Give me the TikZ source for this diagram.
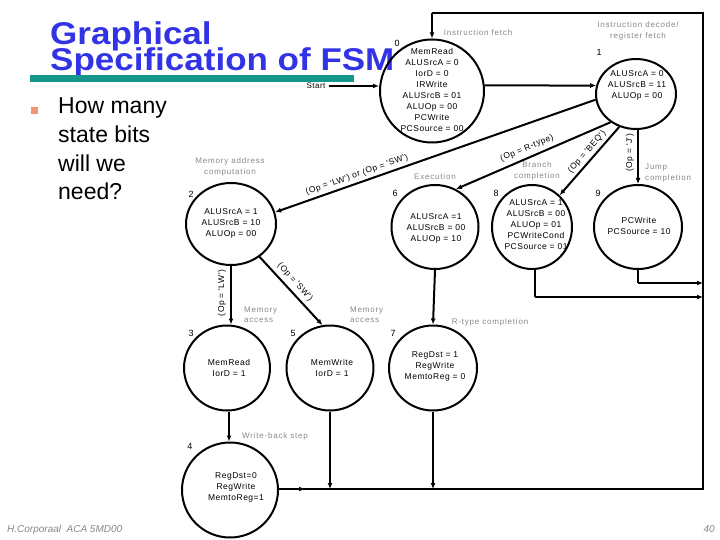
\documentclass[tikz,border=0pt]{standalone}
\usepackage{fontspec}
\usepackage{graphicx}
\setmainfont{Liberation Sans}
\newfontfamily\smallf[LetterSpace=6]{Liberation Sans}
\newfontfamily\lblf[LetterSpace=10]{Liberation Sans}
\usetikzlibrary{arrows.meta,shapes.geometric}
\definecolor{titleblue}{RGB}{51,51,230}
\definecolor{tealbar}{RGB}{20,150,140}
\definecolor{bulletc}{RGB}{240,150,120}
\definecolor{lblgray}{RGB}{135,135,135}
\begin{document}
\begin{tikzpicture}[x=1pt,y=-1pt,
  state/.style={draw, line width=2pt, ellipse, inner sep=0pt},
  stxt/.style={font=\smallf\fontsize{8.5}{11}\selectfont, align=center, inner sep=0pt},
  lbl/.style={font=\lblf\fontsize{8}{10.5}\selectfont, text=lblgray, inner sep=0pt},
  num/.style={font=\smallf\fontsize{9}{10}\selectfont, inner sep=0pt},
  cond/.style={font=\smallf\fontsize{8.5}{10}\selectfont, inner sep=0pt},
  arr/.style={line width=2pt, -{Latex[length=6pt,width=5pt]}},
  ln/.style={line width=2pt},
  ttl/.style={font=\bfseries\fontsize{35}{30}\selectfont, text=titleblue, anchor=base west, inner sep=0pt},
  bul/.style={font=\fontsize{23}{28.7}\selectfont, anchor=base west, inner sep=0pt},
  foot/.style={font=\itshape\fontsize{10}{12}\selectfont, text=lblgray, inner sep=0pt}
]
\useasboundingbox (0,0) rectangle (720,540);
% title
\node[ttl] (t1) at (50,45) {\scalebox{1}[0.9]{Graphical}};
\node[ttl] (t2) at (50,71) {\scalebox{1}[0.9]{Specification of FSM}};
\fill[tealbar] (30,75) rectangle (354,82);
% bullet
\fill[bulletc] (31,107) rectangle (38,114);
\node[bul] (b1) at (58,114) {How many};
\node[bul] (b2) at (58,143) {state bits};
\node[bul] (b3) at (58,172) {will we};
\node[bul] (b4) at (58,200) {need?};

% states
\node[state, minimum width=104pt, minimum height=103pt] (s0) at (432,91) {};
\node[state, minimum width=80pt, minimum height=70pt] (s1) at (636,94) {};
\node[state, minimum width=90pt, minimum height=82pt] (s2) at (231,224) {};
\node[state, minimum width=87pt, minimum height=84pt] (s6) at (435,227) {};
\node[state, minimum width=80pt, minimum height=84pt] (s8) at (532,227) {};
\node[state, minimum width=88pt, minimum height=84pt] (s9) at (638,227) {};
\node[state, minimum width=86pt, minimum height=85pt] (s3) at (227,368) {};
\node[state, minimum width=87pt, minimum height=85pt] (s5) at (330,368) {};
\node[state, minimum width=88pt, minimum height=85pt] (s7) at (433,368) {};
\node[state, minimum width=96pt, minimum height=95pt] (s4) at (230,490) {};

% state texts
\node[stxt] (x0) at (432,90) {MemRead\\ALUSrcA = 0\\IorD = 0\\IRWrite\\ALUSrcB = 01\\ALUOp = 00\\PCWrite\\PCSource = 00};
\node[stxt] (x1) at (637,85) {ALUSrcA = 0\\ALUSrcB = 11\\ALUOp = 00};
\node[stxt] (x2) at (231,223) {ALUSrcA = 1\\ALUSrcB = 10\\ALUOp = 00};
\node[stxt] (x6) at (436,228) {ALUSrcA =1\\ALUSrcB = 00\\ALUOp = 10};
\node[stxt] (x8) at (536,225) {ALUSrcA = 1\\ALUSrcB = 00\\ALUOp = 01\\PCWriteCond\\PCSource = 01};
\node[stxt] (x9) at (639,226) {PCWrite\\PCSource = 10};
\node[stxt] (x3) at (229,368) {MemRead\\IorD = 1};
\node[stxt] (x5) at (332,368) {MemWrite\\IorD = 1};
\node[stxt] (x7) at (435,366) {RegDst = 1\\RegWrite\\MemtoReg = 0};
\node[stxt] (x4) at (236,487) {RegDst=0\\RegWrite\\MemtoReg=1};

% state numbers
\node[num] (n0) at (397,43) {0};
\node[num] (n1) at (599,52) {1};
\node[num] (n2) at (191,194) {2};
\node[num] (n6) at (395,193) {6};
\node[num] (n8) at (496,193) {8};
\node[num] (n9) at (598,193) {9};
\node[num] (n3) at (191,333) {3};
\node[num] (n5) at (293,333) {5};
\node[num] (n7) at (393,333) {7};
\node[num] (n4) at (190,446) {4};

% gray labels
\node[lbl] (l0) at (478,33) {Instruction fetch};
\node[lbl, align=center] (l1) at (638,31) {Instruction decode/\\register fetch};
\node[lbl, align=center] (l2) at (230,167) {Memory address\\computation};
\node[lbl] (l6) at (435,177) {Execution};
\node[lbl, align=center] (l8) at (537,171) {Branch\\completion};
\node[lbl, align=left, anchor=west] (l9) at (645,173) {Jump\\completion};
\node[lbl, align=left, anchor=west] (l3) at (244,315) {Memory\\access};
\node[lbl, align=left, anchor=west] (l5) at (350,315) {Memory\\access};
\node[lbl] (l7) at (490,322) {R-type completion};
\node[lbl] (l4) at (275,436) {Write-back step};

% start
\node[num, font=\smallf\fontsize{8}{10}\selectfont] (st) at (316,86) {Start};
\draw[arr] (st.east) ++(3,0) coordinate (stc) -- (stc -| s0.west);

% transitions
\draw[arr] (s0.6) -- (s1.168);
\draw[arr] (s1.188) -- (s2.15);
\draw[arr] (s1.228) -- (s6.61);
\draw[arr] (s1.243) -- (s8.49);
\draw[arr] (s9.north |- s1.south) -- (s9.north);
\draw[arr] (s2.south) -- (s2.south |- s3.north);
\draw[arr] (s2.311) -- (s5.100);
\draw[arr] (s6.south) -- (s7.north);
\draw[arr] (s3.south) ++(2,0) coordinate (s3b) -- (s3b |- s4.north);

% condition labels
\node[cond, rotate=19.4] (c12) at (357,175) {(Op = 'LW') or (Op = 'SW')};
\node[cond, rotate=23] (c16) at (527,148) {(Op = R-type)};
\node[cond, rotate=48.7] (c18) at (587,152) {(Op = 'BEQ')};
\node[cond, rotate=90] (c19) at (630,153) {(Op = 'J')};
\node[cond, rotate=90] (c23) at (222,293) {(Op = 'LW')};
\node[cond, rotate=-47.6] (c25) at (295,282) {(Op = 'SW')};

% return paths
\coordinate (br) at (703,489);
\coordinate (tr) at (703,13);
\draw[arr] (s4.east |- br) -- (305,489);
\draw[ln] (303,489) -- (br) -- (tr) -- (tr -| s0.north);
\draw[arr] (tr -| s0.north) -- (s0.north);
\draw[arr] (s5.south) -- (s5.south |- br);
\draw[arr] (s7.south) -- (s7.south |- br);
\draw[ln] (s8.south) ++(3,0) coordinate (s8b) -- (s8b |- 0,297) coordinate (s8c);
\draw[arr] (s8c) -- (s8c -| br);
\draw[ln] (s9.south) -- (s9.south |- 0,283) coordinate (s9c);
\draw[arr] (s9c) -- (s9c -| br);

% footer
\node[foot, anchor=base west] (f1) at (7,532) {H.Corporaal\ \ ACA 5MD00};
\node[foot, anchor=base east] (f2) at (715,532) {40};
\end{tikzpicture}
\end{document}
